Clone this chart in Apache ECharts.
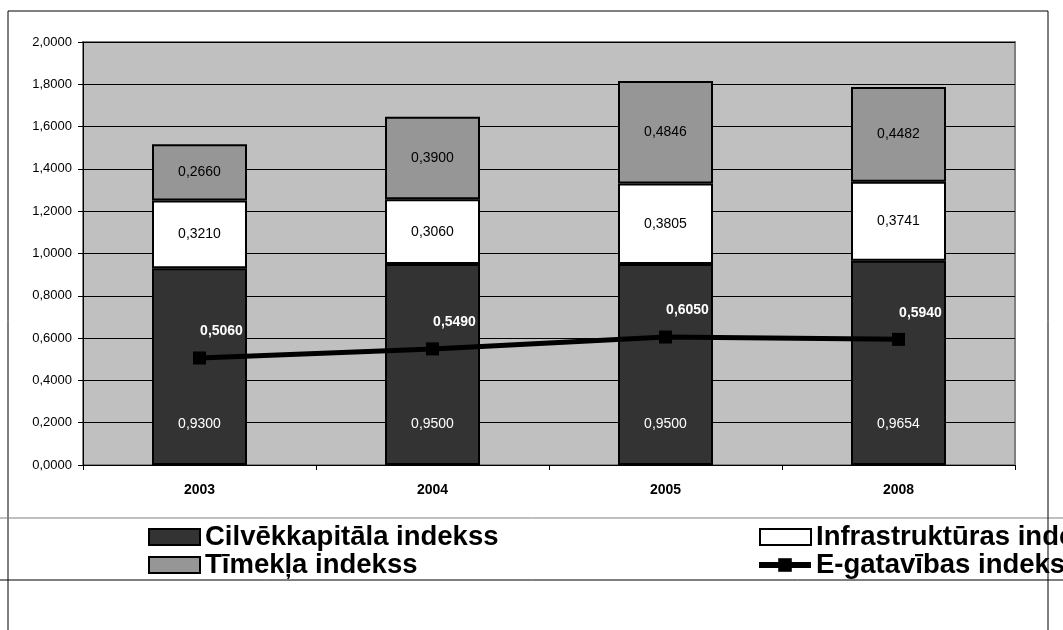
<!DOCTYPE html>
<html><head><meta charset="utf-8">
<script src="https://cdn.jsdelivr.net/npm/echarts@6/dist/echarts.min.js"></script>
<style>html,body{margin:0;padding:0;background:#fff}#c{width:1063px;height:630px}</style>
</head><body><div id="c"></div>
<script>
const categories = ['2003', '2004', '2005', '2008'];
const cilvekkapitals = [0.9300, 0.9500, 0.9500, 0.9654];
const infrastruktura = [0.3210, 0.3060, 0.3805, 0.3741];
const timeklis = [0.2660, 0.3900, 0.4846, 0.4482];
const egatavibas = [0.5060, 0.5490, 0.6050, 0.5940];
const seriesNames = ['Cilvēkkapitāla indekss', 'Infrastruktūras indekss', 'Tīmekļa indekss', 'E-gatavības indekss'];

const fmt = v => v.toFixed(4).replace('.', ',');
const FONT = 'Liberation Sans, Arial, sans-serif';

const chart = echarts.init(document.getElementById('c'), null, {renderer: 'canvas'});

function barSeries(name, data, color, labelColor, pos, dist) {
  return {
    name, type: 'bar', stack: 'total', data, barWidth: 95,
    itemStyle: {color, borderColor: '#000', borderWidth: 2},
    label: {show: true, position: pos, distance: dist, formatter: p => fmt(p.value), color: labelColor, fontFamily: FONT, fontSize: 14},
    emphasis: {disabled: true}, animation: false
  };
}
const legendCommon = {
  itemWidth: 51, itemHeight: 16, itemGap: 0, orient: 'vertical',
  textStyle: {fontFamily: FONT, fontSize: 27.5, fontWeight: 'bold', color: '#000', padding: [0, 0, 0, 0]},
  selectedMode: false, padding: 0
};

chart.setOption({
  animation: false,
  backgroundColor: '#fff',
  grid: {left: 83, right: 48, top: 42, bottom: 165, show: true, backgroundColor: '#C0C0C0', borderColor: '#808080', borderWidth: 2},
  xAxis: {
    type: 'category', data: categories,
    axisLine: {show: true, lineStyle: {color: '#000', width: 1}},
    axisTick: {show: true, length: 5, lineStyle: {color: '#000'}},
    axisLabel: {fontFamily: FONT, fontSize: 14, fontWeight: 'bold', color: '#000', margin: 18}
  },
  yAxis: {
    type: 'value', min: 0, max: 2, interval: 0.2,
    axisLine: {show: true, lineStyle: {color: '#000', width: 1}},
    axisTick: {show: true, length: 5, lineStyle: {color: '#000'}},
    axisLabel: {fontFamily: FONT, fontSize: 13, color: '#000', margin: 11, formatter: v => fmt(v)},
    splitLine: {show: true, lineStyle: {color: '#000', width: 1}}
  },
  legend: [
    Object.assign({}, legendCommon, {left: 148, top: 523, icon: 'rect', data: [{name: seriesNames[0], itemStyle: {color: '#333333', borderColor: '#000', borderWidth: 2}}]}),
    Object.assign({}, legendCommon, {left: 148, top: 551, icon: 'rect', data: [{name: seriesNames[2], itemStyle: {color: '#969696', borderColor: '#000', borderWidth: 2}}]}),
    Object.assign({}, legendCommon, {left: 759, top: 523, icon: 'rect', data: [{name: seriesNames[1], itemStyle: {color: '#ffffff', borderColor: '#000', borderWidth: 2}}]}),
    Object.assign({}, legendCommon, {left: 756, top: 551, itemWidth: 52, itemHeight: 17, lineStyle: {width: 6, color: '#000'}, itemStyle: {color: '#000'}, data: [{name: seriesNames[3]}]})
  ],
  graphic: [
    {type: 'line', shape: {x1: 8, y1: 11, x2: 1048, y2: 11}, style: {stroke: '#000', lineWidth: 1}},
    {type: 'line', shape: {x1: 8, y1: 11, x2: 8, y2: 630}, style: {stroke: '#000', lineWidth: 1}},
    {type: 'line', shape: {x1: 1048, y1: 11, x2: 1048, y2: 630}, style: {stroke: '#000', lineWidth: 1}, z: 100},
    {type: 'line', shape: {x1: 0, y1: 518, x2: 1063, y2: 518}, style: {stroke: '#808080', lineWidth: 1}},
    {type: 'line', shape: {x1: 0, y1: 580, x2: 1063, y2: 580}, style: {stroke: '#000', lineWidth: 1}}
  ],
  series: [
    barSeries(seriesNames[0], cilvekkapitals, '#333333', '#ffffff', 'insideBottom', 34),
    barSeries(seriesNames[1], infrastruktura, '#ffffff', '#000000', 'inside', 5),
    barSeries(seriesNames[2], timeklis, '#969696', '#000000', 'inside', 5),
    {
      name: seriesNames[3], type: 'line', data: egatavibas, z: 5,
      symbol: 'rect', symbolSize: 13,
      lineStyle: {color: '#000', width: 5},
      itemStyle: {color: '#000'},
      label: {show: true, position: 'top', offset: [22, -8], formatter: p => fmt(p.value), color: '#fff', fontFamily: FONT, fontSize: 14, fontWeight: 'bold'},
      emphasis: {disabled: true}
    }
  ]
});
</script></body></html>
